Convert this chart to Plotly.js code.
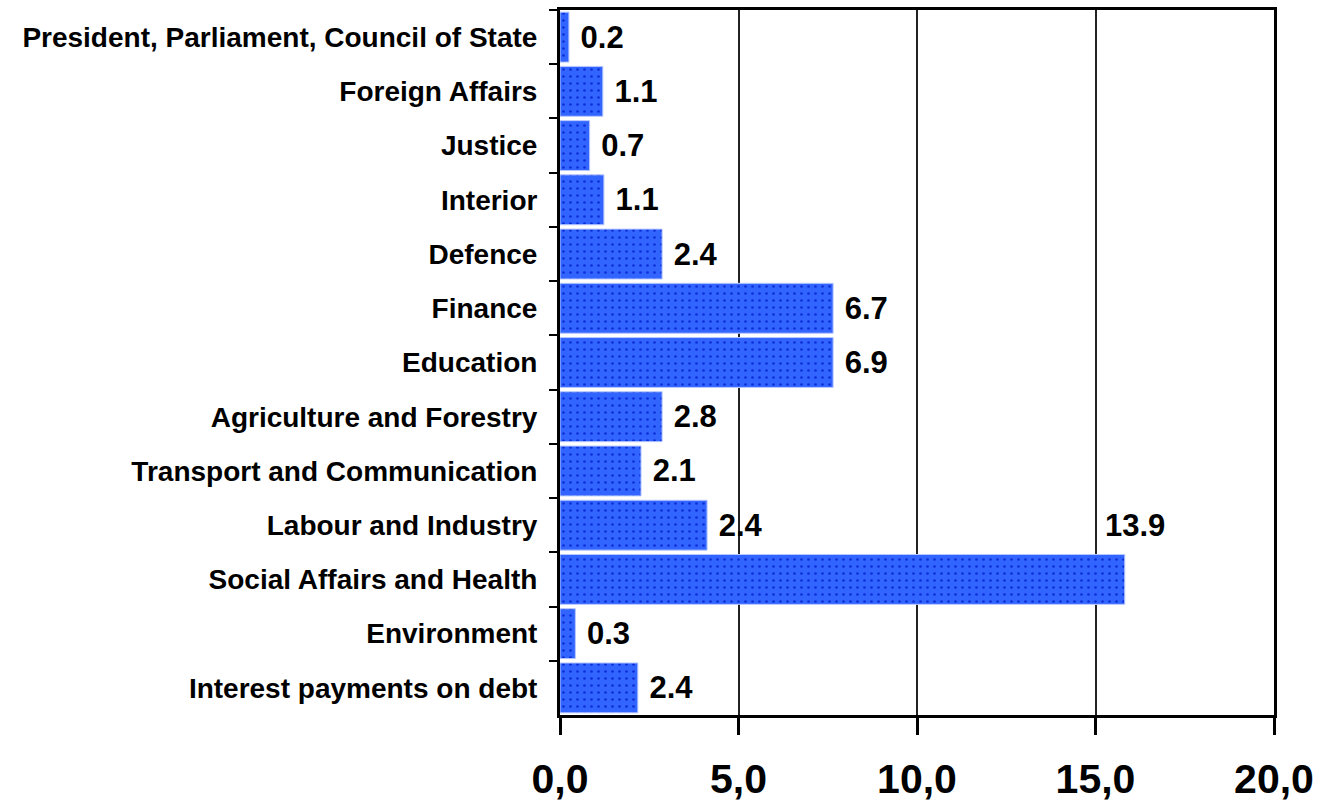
<!DOCTYPE html>
<html>
<head>
<meta charset="utf-8">
<script src="https://cdn.plot.ly/plotly-3.0.1.min.js"></script>
<style>html,body{margin:0;padding:0;background:#fff;}#chart{width:1318px;height:806px;}</style>
</head>
<body>
<div id="chart"></div>
<script>
var categories = [
  "President, Parliament, Council of State",
  "Foreign Affairs",
  "Justice",
  "Interior",
  "Defence",
  "Finance",
  "Education",
  "Agriculture and Forestry",
  "Transport and Communication",
  "Labour and Industry",
  "Social Affairs and Health",
  "Environment",
  "Interest payments on debt"
];
var barValues = [0.25, 1.2, 0.83, 1.23, 2.86, 7.65, 7.65, 2.86, 2.27, 4.12, 15.82, 0.43, 2.18];
// value labels as printed
var valueLabels = ["0.2", "1.1", "0.7", "1.1", "2.4", "6.7", "6.9", "2.8", "2.1", "2.4", "13.9", "0.3", "2.4"];
var xTickVals = [0, 5, 10, 15, 20];
var xTickText = ["0,0", "5,0", "10,0", "15,0", "20,0"];

var FONT = "Liberation Sans, Arial, sans-serif";
var floatIdx = categories.indexOf("Social Affairs and Health");
var barText = valueLabels.map(function (t, i) { return i === floatIdx ? "" : " " + t; });

var trace = {
  type: "bar",
  orientation: "h",
  x: barValues,
  y: categories,
  text: barText,
  textposition: "outside",
  cliponaxis: false,
  textfont: {family: FONT, size: 31, weight: "bold", color: "#000"},
  marker: {
    color: "#3264ff",
    line: {color: "#b8c8ff", width: 1},
    pattern: {shape: ".", fgcolor: "#0b2fd8", bgcolor: "#3264ff", fillmode: "replace", size: 7, solidity: 0.12}
  },
  hoverinfo: "x+y"
};

var layout = {
  width: 1318,
  height: 806,
  margin: {l: 560, r: 44, t: 10, b: 91},
  paper_bgcolor: "#fff",
  plot_bgcolor: "#fff",
  showlegend: false,
  bargap: 0.08,
  font: {family: FONT, color: "#000"},
  xaxis: {
    range: [0, 20],
    tickvals: xTickVals,
    ticktext: xTickText,
    tickfont: {size: 41, family: FONT, weight: "bold", color: "#000"},
    ticks: "outside",
    ticklen: 17,
    tickwidth: 3,
    tickcolor: "#000",
    ticklabelstandoff: 9,
    showline: true,
    linecolor: "#000",
    linewidth: 3,
    mirror: true,
    showgrid: true,
    gridcolor: "#222",
    gridwidth: 2,
    zeroline: false,
    fixedrange: true
  },
  yaxis: {
    autorange: "reversed",
    tickfont: {size: 28, family: FONT, weight: "bold", color: "#000"},
    ticks: "outside",
    tickson: "boundaries",
    ticklen: 8,
    tickwidth: 2,
    tickcolor: "#000",
    ticklabelstandoff: 14,
    showline: true,
    linecolor: "#000",
    linewidth: 3,
    mirror: true,
    showgrid: false,
    zeroline: false,
    fixedrange: true
  },
  annotations: [{
    x: 15.2,
    y: categories[floatIdx - 1],
    xref: "x",
    yref: "y",
    text: valueLabels[floatIdx],
    showarrow: false,
    xanchor: "left",
    yanchor: "middle",
    font: {family: FONT, size: 31, weight: "bold", color: "#000"}
  }]
};

Plotly.newPlot("chart", [trace], layout, {displayModeBar: false, staticPlot: true});
</script>
</body>
</html>
